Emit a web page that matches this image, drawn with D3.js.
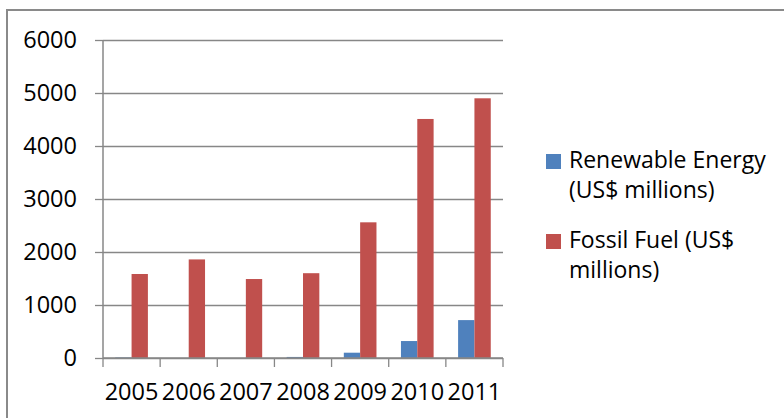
<!DOCTYPE html>
<html>
<head>
<meta charset="utf-8">
<script src="https://cdn.jsdelivr.net/npm/d3@7"></script>
<style>
  html, body { margin: 0; padding: 0; background: #fff; }
  svg { display: block; font-family: "Open Sans", sans-serif; }
</style>
</head>
<body>
<div id="chart"></div>
<script>
// data
const years = ["2005", "2006", "2007", "2008", "2009", "2010", "2011"];
const renewable = [10, 0, 0, 20, 100, 320, 715];
const fossil = [1585, 1860, 1490, 1600, 2560, 4510, 4900];
const seriesNames = ["Renewable Energy (US$ millions)", "Fossil Fuel (US$ millions)"];
const legendLines = [["Renewable Energy", "(US$ millions)"], ["Fossil Fuel (US$", "millions)"]];
const seriesColors = ["#4F81BD", "#C0504D"];
const yTicks = [0, 1000, 2000, 3000, 4000, 5000, 6000];

(() => {
    const width = 784, height = 418;
    const plot = { left: 103, right: 503, top: 40, bottom: 358 };
    const axisFont = 23.5, legendFont = 23;

    const rows = years.map((y, i) => ({ year: y, values: [renewable[i], fossil[i]] }));

    const svg = d3.select("#chart")
        .append("svg")
        .attr("width", width)
        .attr("height", height);

    // outer chart border (runs off the right / bottom edge)
    svg.append("rect")
        .attr("x", 7).attr("y", 10)
        .attr("width", 900).attr("height", 600)
        .attr("fill", "none")
        .attr("stroke", "#8a8a8a")
        .attr("stroke-width", 2);

    const x0 = d3.scaleBand()
        .domain(years)
        .range([plot.left, plot.right])
        .padding(0);

    const x1 = d3.scaleBand()
        .domain(d3.range(seriesNames.length))
        .range([0, x0.bandwidth()])
        .paddingInner(0)
        .paddingOuter(0.75);

    const y = d3.scaleLinear()
        .domain([0, 6000])
        .range([plot.bottom, plot.top]);

    // gridlines
    svg.append("g")
        .attr("transform", `translate(${plot.left},0)`)
        .call(d3.axisLeft(y).tickValues(yTicks).tickSize(-(plot.right - plot.left)).tickFormat(""))
        .call(g => g.select(".domain").remove())
        .call(g => g.selectAll(".tick line").attr("stroke", "#878787").attr("stroke-width", 1.3));

    // bars
    svg.append("g")
        .selectAll("g")
        .data(rows)
        .join("g")
        .attr("transform", d => `translate(${x0(d.year)},0)`)
        .selectAll("rect")
        .data(d => d.values.map((v, k) => ({ k, v })))
        .join("rect")
        .attr("x", d => x1(d.k))
        .attr("y", d => y(d.v))
        .attr("width", x1.bandwidth())
        .attr("height", d => plot.bottom - y(d.v))
        .attr("fill", d => seriesColors[d.k]);

    // y axis
    const yAxis = d3.axisLeft(y)
        .tickValues(yTicks)
        .tickSize(8)
        .tickPadding(18)
        .tickFormat(d3.format("d"));

    svg.append("g")
        .attr("transform", `translate(${plot.left},0)`)
        .call(yAxis)
        .call(g => g.select(".domain").attr("stroke", "#878787").attr("stroke-width", 1.5).attr("d", `M0,${plot.top}V${plot.bottom}`))
        .call(g => g.selectAll(".tick line").attr("stroke", "#878787").attr("stroke-width", 1.3))
        .call(g => g.selectAll(".tick text").attr("font-size", axisFont).attr("font-family", "Open Sans").attr("fill", "#000"));

    // x axis line + boundary ticks
    const xg = svg.append("g");
    xg.append("line")
        .attr("x1", plot.left).attr("x2", plot.right)
        .attr("y1", plot.bottom).attr("y2", plot.bottom)
        .attr("stroke", "#878787").attr("stroke-width", 1.5);

    const bounds = years.map(d => x0(d)).concat([x0(years[years.length - 1]) + x0.bandwidth()]);
    xg.selectAll(".bt")
        .data(bounds)
        .join("line")
        .attr("class", "bt")
        .attr("x1", d => d).attr("x2", d => d)
        .attr("y1", plot.bottom).attr("y2", plot.bottom + 9)
        .attr("stroke", "#878787").attr("stroke-width", 1.3);

    xg.selectAll(".xl")
        .data(years)
        .join("text")
        .attr("class", "xl")
        .attr("x", d => x0(d) + x0.bandwidth() / 2)
        .attr("y", 400)
        .attr("text-anchor", "middle")
        .attr("font-size", axisFont)
        .attr("fill", "#000")
        .text(d => d);

    // legend
    const legend = svg.append("g");
    const legendTop = [154, 234];
    legendLines.forEach((lines, i) => {
        legend.append("rect")
            .attr("x", 546).attr("y", legendTop[i])
            .attr("width", 15).attr("height", 15)
            .attr("fill", seriesColors[i]);
        lines.forEach((t, j) => {
            legend.append("text")
                .attr("x", 569)
                .attr("y", legendTop[i] + 14 + j * 30)
                .attr("font-size", legendFont)
                .attr("fill", "#000")
                .text(t);
        });
    });
})();
</script>
</body>
</html>
